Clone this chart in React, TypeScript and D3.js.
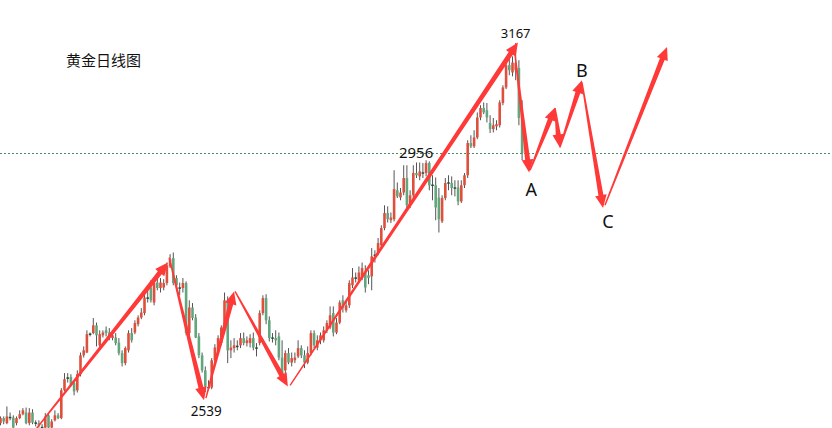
import React from 'react';
import * as d3 from 'd3';

const W = 832;
const H = 428;
const title = '黄金日线图';

// [open, high, low, close]
const augToOct: number[][] = [
  [2483,2495,2479,2492],[2492,2495,2481,2486],[2483,2513,2481,2495],[2493,2502,2488,2493],
  [2493,2497,2474,2475],[2483,2495,2479,2492],[2492,2506,2490,2499],[2499,2510,2497,2506],
  [2502,2511,2481,2483],[2483,2510,2479,2502],[2502,2508,2481,2484],[2483,2488,2477,2483],
  [2483,2488,2475,2479],[2475,2481,2470,2475],[2475,2501,2474,2495],[2497,2501,2472,2475],
  [2475,2490,2474,2486],[2488,2506,2486,2497],[2497,2501,2490,2492],[2492,2546,2490,2542],
  [2542,2573,2540,2562],[2564,2573,2556,2564],[2566,2571,2549,2551],[2555,2560,2533,2540],
  [2542,2578,2538,2571],[2571,2610,2567,2605],[2605,2621,2601,2614],[2610,2650,2609,2643],
  [2643,2646,2639,2643],[2645,2672,2643,2659],[2659,2664,2621,2641],[2623,2650,2618,2643],
  [2641,2650,2637,2646],[2650,2657,2639,2645],[2646,2654,2632,2637],[2636,2648,2632,2641],
  [2637,2645,2623,2627],[2628,2636,2605,2609],[2609,2614,2585,2591],[2591,2621,2587,2618],
  [2614,2650,2610,2645],[2645,2654,2628,2632],[2646,2668,2643,2663],[2661,2677,2657,2673],
  [2673,2690,2670,2682],[2681,2715,2677,2709],[2708,2722,2700,2708],[2727,2740,2700,2704],
  [2700,2738,2695,2735],[2736,2744,2722,2726],[2726,2744,2718,2736],[2727,2742,2722,2735],
  [2735,2772,2731,2767],[2765,2787,2762,2778],[2780,2790,2731,2735],
];
const novToJan: number[][] = [
  [2744,2749,2722,2731],[2726,2736,2713,2726],[2726,2744,2718,2735],[2735,2738,2641,2645],
  [2645,2704,2639,2691],[2691,2699,2668,2672],[2673,2679,2636,2637],[2639,2645,2600,2605],
  [2605,2610,2574,2578],[2578,2585,2539,2549],[2547,2560,2542,2547],[2547,2600,2544,2596],
  [2596,2625,2591,2619],[2614,2641,2610,2636],[2627,2659,2623,2655],[2655,2718,2650,2704],
  [2704,2711,2591,2614],[2614,2632,2600,2619],[2618,2636,2610,2623],[2621,2632,2614,2621],
  [2623,2645,2618,2636],[2636,2646,2623,2627],[2627,2639,2621,2632],[2627,2643,2619,2636],
  [2636,2646,2614,2619],[2618,2627,2603,2618],[2627,2686,2623,2681],[2681,2713,2677,2708],
  [2708,2715,2661,2668],[2668,2675,2630,2636],[2636,2645,2628,2636],[2636,2650,2623,2632],
  [2639,2646,2596,2601],[2601,2632,2564,2569],[2578,2614,2573,2609],[2609,2618,2589,2592],
  [2592,2610,2585,2600],[2596,2610,2591,2601],[2603,2632,2600,2618],[2618,2623,2600,2605],
  [2605,2614,2582,2592],[2592,2621,2589,2609],[2609,2650,2605,2645],[2645,2650,2618,2623],
  [2619,2641,2614,2632],[2632,2646,2625,2641],[2632,2657,2628,2650],[2650,2668,2645,2663],
  [2655,2693,2652,2677],[2681,2693,2639,2646],[2646,2672,2643,2664],[2664,2704,2661,2700],
  [2704,2713,2682,2690],[2686,2704,2682,2695],[2695,2740,2690,2735],[2731,2762,2726,2745],
];
const febToApr: number[][] = [
  [2744,2754,2736,2744],[2740,2765,2735,2754],[2744,2772,2740,2762],[2754,2767,2718,2727],
  [2749,2758,2733,2744],[2747,2798,2722,2783],[2785,2794,2772,2785],[2790,2816,2785,2807],
  [2803,2839,2798,2834],[2834,2875,2830,2861],[2861,2873,2844,2850],[2848,2862,2843,2853],
  [2850,2938,2846,2904],[2902,2916,2888,2891],[2889,2906,2884,2898],[2898,2947,2893,2924],
  [2924,2947,2866,2875],[2875,2902,2870,2893],[2893,2947,2888,2933],[2933,2952,2924,2929],
  [2927,2952,2920,2936],[2933,2951,2924,2933],[2933,2956,2927,2951],[2951,2954,2902,2911],
  [2911,2929,2884,2911],[2911,2925,2848,2871],[2889,2906,2826,2850],[2846,2893,2843,2888],
  [2888,2924,2884,2915],[2915,2929,2902,2915],[2915,2927,2893,2906],[2906,2920,2891,2906],
  [2907,2920,2875,2882],[2882,2920,2879,2911],[2911,2933,2906,2929],[2929,2992,2924,2987],
  [2987,3001,2978,2981],[2981,3010,2978,2997],[2997,3042,2994,3033],[3033,3055,3028,3050],
  [3050,3060,3039,3042],[3046,3059,3024,3033],[3023,3037,3005,3012],[3012,3032,3006,3019],
  [3017,3028,3010,3021],[3019,3064,3015,3060],[3059,3091,3055,3087],[3087,3132,3084,3127],
  [3127,3145,3109,3118],[3114,3143,3107,3132],[3118,3167,3100,3131],[3122,3136,3019,3032],
  [3032,3064,2956,2969],
];
const candles = [...augToOct, ...novToJan, ...febToApr];

// price labels: [text, candle index, price, dx, dy, font size]
const priceLabels: [string, number, number, number, number, number][] = [
  ['3167', 161, 3167, 0, -5, 13],
  ['2956', 133, 2956, -10, -2, 15],
  ['2539', 64, 2539, 1, 24, 13.5],
];

// wave arrows: tail [index, price] -> head [index, price]
const arrows: [number, number, number, number][] = [
  [10.8, 2470, 52.3, 2772],
  [52.7, 2781, 63.6, 2524],
  [64.2, 2528, 73.0, 2720],
  [73.3, 2720, 89.8, 2549],
  [90.5, 2551, 161.7, 3168],
  [160.8, 3145, 165.2, 2934],
  [165.5, 2938, 173.3, 3051],
  [173.3, 3050, 174.8, 2979],
  [174.8, 2979, 181.7, 3100],
  [181.7, 3096, 188.3, 2870],
  [188.9, 2875, 208.3, 3160],
];

// wave letters: [text, index, price, dx, dy]
const waveLabels: [string, number, number, number, number][] = [
  ['A', 165.2, 2934, 2, 24],
  ['B', 181.7, 3100, 0, -3],
  ['C', 188.3, 2870, 5, 20],
];

const x = d3.scaleLinear().domain([0, 163]).range([0.5, 522.1]);
const y = d3.scaleLinear().domain([2539, 3167]).range([392, 43]);

const RED = '#de4f3c';
const GREEN = '#62a67e';
const DOJI = '#1f5233';
const WICK = '#555555';
const ARROW = '#ff3838';

function arrowPath(x1: number, y1: number, x2: number, y2: number) {
  const dx = x2 - x1, dy = y2 - y1;
  const len = Math.hypot(dx, dy);
  const ux = dx / len, uy = dy / len;
  const nx = -uy, ny = ux;
  const headLen = Math.min(13, len * 0.45);
  const headHalf = 5.8;
  const w0 = 0.7, w1 = 2.5;
  const bx = x2 - ux * headLen, by = y2 - uy * headLen;
  const pts = [
    [x1 + nx * w0, y1 + ny * w0],
    [bx + nx * w1, by + ny * w1],
    [bx + nx * headHalf, by + ny * headHalf],
    [x2, y2],
    [bx - nx * headHalf, by - ny * headHalf],
    [bx - nx * w1, by - ny * w1],
    [x1 - nx * w0, y1 - ny * w0],
  ];
  return 'M' + pts.map(p => p[0].toFixed(2) + ',' + p[1].toFixed(2)).join('L') + 'Z';
}

export default function App() {
  const bw = 2.6;
  const last = candles[candles.length - 1][3];
  return (
    <svg width={W} height={H} style={{ position: 'absolute', left: 0, top: 0, background: '#fff' }}>
      <rect x={0} y={0} width={W} height={H} fill="#fff" />
      <line x1={0} x2={W} y1={Math.round(y(last)) + 0.5} y2={Math.round(y(last)) + 0.5}
        stroke="#4d8a68" strokeWidth={1} strokeDasharray="2,2" />
      {candles.map((c, i) => {
        const [o, h, l, cl] = c;
        const cx = x(i);
        const up = cl > o;
        const doji = cl === o;
        const top = y(Math.max(o, cl));
        const bot = y(Math.min(o, cl));
        const fill = doji ? DOJI : up ? RED : GREEN;
        return (
          <g key={i}>
            <line x1={cx} x2={cx} y1={y(h)} y2={y(l)} stroke={WICK} strokeWidth={1} />
            <rect x={cx - bw / 2} y={doji ? top - 0.75 : top} width={bw}
              height={doji ? 1.5 : Math.max(1, bot - top)} fill={fill} />
          </g>
        );
      })}
      {arrows.map((a, i) => (
        <path key={i} d={arrowPath(x(a[0]), y(a[1]), x(a[2]), y(a[3]))} fill={ARROW} />
      ))}
      {priceLabels.map(([t, i, p, dx, dy, s]) => (
        <text key={t} x={x(i) + dx} y={y(p) + dy} textAnchor="middle"
          fontFamily="'Noto Sans', 'DejaVu Sans', sans-serif" fontSize={s} fill="#111">{t}</text>
      ))}
      {waveLabels.map(([t, i, p, dx, dy]) => (
        <text key={t} x={x(i) + dx} y={y(p) + dy} textAnchor="middle"
          fontFamily="'Noto Sans', 'DejaVu Sans', sans-serif" fontSize={18} fill="#111">{t}</text>
      ))}
      <text x={66} y={66} fontFamily="'Noto Sans CJK SC', sans-serif" fontSize={15} fill="#111">{title}</text>
    </svg>
  );
}
